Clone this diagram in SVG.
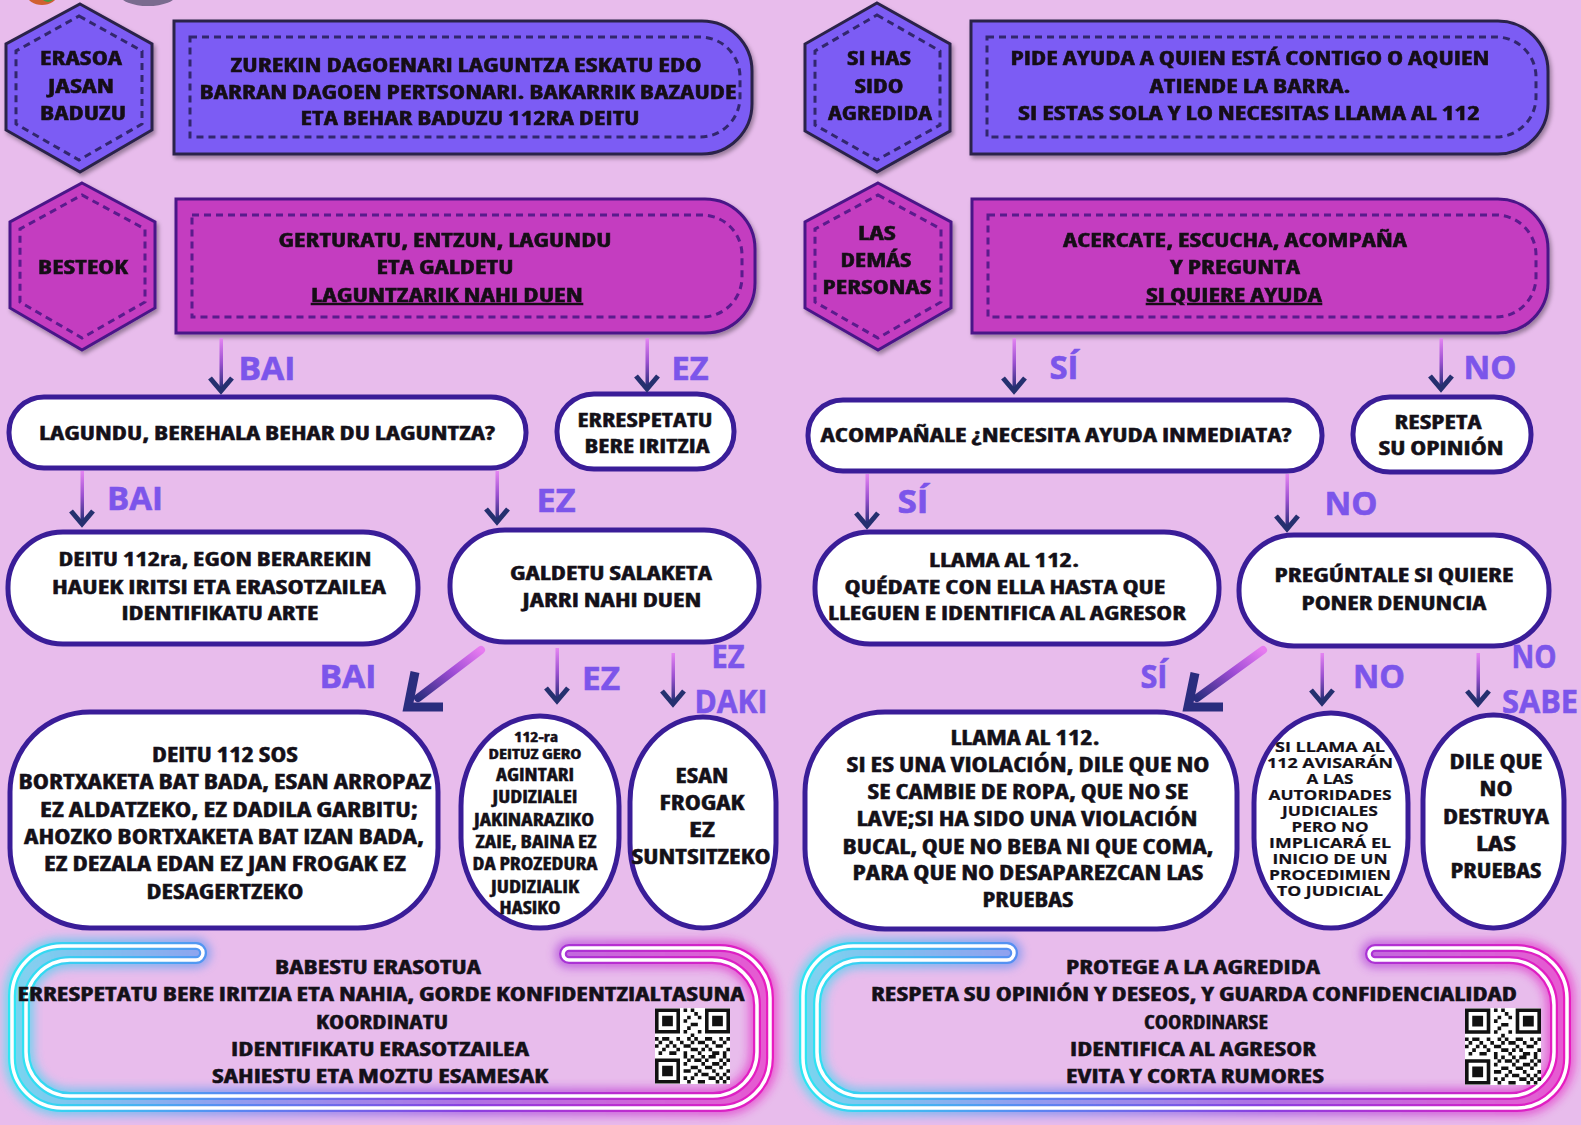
<svg xmlns="http://www.w3.org/2000/svg" xmlns:xlink="http://www.w3.org/1999/xlink" width="1581" height="1125" viewBox="0 0 1581 1125">
<defs>
<style>
.hexa{fill:#7c5cf4;stroke:#2b2348;stroke-width:3}
.hexb{fill:#c43cc0;stroke:#4a1688;stroke-width:3}
.da{fill:none;stroke:#33286e;stroke-width:3;stroke-dasharray:7 5}
.db{fill:none;stroke:#5a1a8c;stroke-width:3;stroke-dasharray:7 5}
.wn{fill:#fff;stroke:#3a1d98;stroke-width:5}
.t{font-family:"Open Sans","Liberation Sans",sans-serif;font-weight:700;font-size:20px;fill:#141018;stroke:#141018;stroke-width:0.45;text-anchor:middle;font-stretch:condensed}
.m{font-size:21px}
.s{font-size:17px}
.xs{font-size:14px;font-stretch:normal;stroke-width:0.2}
.f{font-size:19px}
.lbl{font-family:"Open Sans","Liberation Sans",sans-serif;font-weight:700;font-size:32px;fill:#7c55ea;stroke:#7c55ea;stroke-width:0.6;text-anchor:middle}
.u{text-decoration:underline}
.sh{fill:url(#sg)}
.dsh{fill:none;stroke:url(#dg);stroke-width:8;stroke-linecap:round}
.dh{fill:none;stroke:#2a2d7e;stroke-width:9;stroke-linejoin:miter}
.neon{fill:none;stroke-width:8;stroke-linejoin:round}
.core{fill:none;stroke:#fff;stroke-width:3.5}
.glow{fill:none;stroke-width:16;opacity:.6;filter:url(#blur)}
</style>
<linearGradient id="sg" x1="0" y1="0" x2="0" y2="1">
<stop offset="0" stop-color="#e584f2"/><stop offset="0.5" stop-color="#9a4fd0"/><stop offset="1" stop-color="#2a2f7a"/>
</linearGradient>
<linearGradient id="dg" x1="1" y1="0" x2="0" y2="1">
<stop offset="0" stop-color="#e77cf0"/><stop offset="0.45" stop-color="#a04cd6"/><stop offset="1" stop-color="#2a2d7e"/>
</linearGradient>
<linearGradient id="ng1" gradientUnits="userSpaceOnUse" x1="12" y1="0" x2="770" y2="0">
<stop offset="0" stop-color="#2ee6f2"/><stop offset="0.3" stop-color="#5a86f2"/><stop offset="0.6" stop-color="#8a40e0"/><stop offset="1" stop-color="#e81cc0"/>
</linearGradient>
<linearGradient id="ng2" gradientUnits="userSpaceOnUse" x1="803" y1="0" x2="1567" y2="0">
<stop offset="0" stop-color="#2ee6f2"/><stop offset="0.3" stop-color="#5a86f2"/><stop offset="0.6" stop-color="#8a40e0"/><stop offset="1" stop-color="#e81cc0"/>
</linearGradient>
<filter id="blur" x="-10%" y="-20%" width="120%" height="140%"><feGaussianBlur stdDeviation="5"/></filter>
<filter id="shd" x="-10%" y="-10%" width="125%" height="130%"><feDropShadow dx="2" dy="3" stdDeviation="2" flood-color="#000" flood-opacity="0.35"/></filter>
<path id="ah" d="M-11,-13 L0,0 L11,-13" fill="none" stroke="#25306f" stroke-width="5"/>
<symbol id="qr" viewBox="0 0 21 21">
<rect x="-1" y="-1" width="23" height="23" fill="#fff"/>
<path fill="#111" fill-rule="evenodd" d="M0,0h7v7h-7z M1,1v5h5v-5z M2,2h3v3h-3z M14,0h7v7h-7z M15,1v5h5v-5z M16,2h3v3h-3z M0,14h7v7h-7z M1,15v5h5v-5z M2,16h3v3h-3z"/>
<path fill="#111" d="M8,0h1v1h-1z M10,0h1v1h-1z M11,1h1v1h-1z M9,2h1v1h-1z M12,2h1v1h-1z M8,3h1v1h-1z M10,4h2v1h-2z M9,5h1v1h-1z M8,6h1v1h-1z M12,6h1v1h-1z M10,7h1v1h-1z M0,8h1v1h-1z M2,8h2v1h-2z M6,8h1v1h-1z M9,8h1v1h-1z M11,8h1v1h-1z M14,8h2v1h-2z M18,8h1v1h-1z M20,8h1v1h-1z M1,9h1v1h-1z M4,9h1v1h-1z M7,9h1v1h-1z M10,9h1v1h-1z M12,9h2v1h-2z M16,9h1v1h-1z M19,9h1v1h-1z M0,10h1v1h-1z M3,10h1v1h-1z M5,10h1v1h-1z M8,10h2v1h-2z M14,10h1v1h-1z M17,10h2v1h-2z M2,11h1v1h-1z M6,11h1v1h-1z M10,11h2v1h-2z M13,11h1v1h-1z M15,11h1v1h-1z M20,11h1v1h-1z M1,12h1v1h-1z M4,12h2v1h-2z M8,12h1v1h-1z M12,12h1v1h-1z M16,12h2v1h-2z M19,12h1v1h-1z M8,13h1v1h-1z M10,13h1v1h-1z M13,13h1v1h-1z M15,13h2v1h-2z M19,13h1v1h-1z M9,14h1v1h-1z M11,14h2v1h-2z M14,14h1v1h-1z M18,14h1v1h-1z M20,14h1v1h-1z M8,15h1v1h-1z M13,15h1v1h-1z M16,15h2v1h-2z M19,15h1v1h-1z M10,16h2v1h-2z M14,16h2v1h-2z M18,16h1v1h-1z M8,17h2v1h-2z M12,17h1v1h-1z M16,17h1v1h-1z M20,17h1v1h-1z M11,18h1v1h-1z M13,18h2v1h-2z M17,18h1v1h-1z M19,18h1v1h-1z M8,19h1v1h-1z M10,19h1v1h-1z M15,19h2v1h-2z M18,19h1v1h-1z M20,19h1v1h-1z M9,20h1v1h-1z M12,20h2v1h-2z M17,20h1v1h-1z M19,20h1v1h-1z"/>
</symbol>
</defs>

<rect x="0" y="0" width="1581" height="1125" fill="#e8bcec"/>

<!-- partial logo at top edge -->
<g id="logo-fragment">
<ellipse cx="42" cy="-5" rx="15" ry="10" fill="#d06030"/>
<ellipse cx="48" cy="-3" rx="6" ry="5" fill="#4a9a40"/>
<ellipse cx="148" cy="-5" rx="28" ry="11" fill="#7a6b8f"/>
</g>

<!-- ============ LEFT COLUMN ============ -->
<g id="hex-erasoa" filter="url(#shd)">
<polygon class="hexa" points="80,4 152,44 152,130 80,172 6,130 6,44"/>
<polygon class="da" points="79,16 142,51 142,124 79,160 16,124 16,51"/>
<text class="t" x="81" y="65" textLength="82" lengthAdjust="spacingAndGlyphs">ERASOA</text>
<text class="t" x="81" y="93" textLength="66" lengthAdjust="spacingAndGlyphs">JASAN</text>
<text class="t" x="83" y="120" textLength="86" lengthAdjust="spacingAndGlyphs">BADUZU</text>
</g>

<g id="box-zurekin" filter="url(#shd)">
<path d="M174,21 H702 A50,50 0 0 1 752,71 V104 A50,50 0 0 1 702,154 H174 Z" fill="#7c5cf4" stroke="#2b2348" stroke-width="3"/>
<path class="da" d="M190,37 H700 A40,40 0 0 1 740,77 V97 A40,40 0 0 1 700,137 H190 Z"/>
<text class="t" x="466" y="72" textLength="471" lengthAdjust="spacingAndGlyphs">ZUREKIN DAGOENARI LAGUNTZA ESKATU EDO</text>
<text class="t" x="468" y="99" textLength="537" lengthAdjust="spacingAndGlyphs">BARRAN DAGOEN PERTSONARI. BAKARRIK BAZAUDE</text>
<text class="t" x="470" y="125" textLength="339" lengthAdjust="spacingAndGlyphs">ETA BEHAR BADUZU 112RA DEITU</text>
</g>

<g id="hex-besteok" filter="url(#shd)">
<polygon class="hexb" points="82,183 155,222 155,308 82,350 10,308 10,222"/>
<polygon class="db" points="82,195 145,229 145,302 82,338 20,302 20,229"/>
<text class="t" x="83" y="274" textLength="90" lengthAdjust="spacingAndGlyphs">BESTEOK</text>
</g>

<g id="box-gerturatu" filter="url(#shd)">
<path d="M176,199 H705 A50,50 0 0 1 755,249 V283 A50,50 0 0 1 705,333 H176 Z" fill="#c43cc0" stroke="#4a1688" stroke-width="3"/>
<path class="db" d="M192,215 H702 A40,40 0 0 1 742,255 V277 A40,40 0 0 1 702,317 H192 Z"/>
<text class="t" x="445" y="247" textLength="333" lengthAdjust="spacingAndGlyphs">GERTURATU, ENTZUN, LAGUNDU</text>
<text class="t" x="445" y="274" textLength="137" lengthAdjust="spacingAndGlyphs">ETA GALDETU</text>
<text class="t u" x="447" y="302" textLength="272" lengthAdjust="spacingAndGlyphs">LAGUNTZARIK NAHI DUEN</text>
</g>

<g id="node-lagundu">
<rect class="wn" x="9" y="397" width="517" height="71" rx="35"/>
<text class="t" x="267" y="440" textLength="456" lengthAdjust="spacingAndGlyphs">LAGUNDU, BEREHALA BEHAR DU LAGUNTZA?</text>
</g>

<g id="node-errespetatu">
<rect class="wn" x="557" y="394" width="177" height="75" rx="37"/>
<text class="t" x="645" y="427" textLength="135" lengthAdjust="spacingAndGlyphs">ERRESPETATU</text>
<text class="t" x="647" y="453" textLength="125" lengthAdjust="spacingAndGlyphs">BERE IRITZIA</text>
</g>

<g id="node-deitu112ra">
<rect class="wn" x="8" y="532" width="410" height="112" rx="55"/>
<text class="t" x="215" y="566" textLength="313" lengthAdjust="spacingAndGlyphs">DEITU 112ra, EGON BERAREKIN</text>
<text class="t" x="219" y="594" textLength="334" lengthAdjust="spacingAndGlyphs">HAUEK IRITSI ETA ERASOTZAILEA</text>
<text class="t" x="220" y="620" textLength="197" lengthAdjust="spacingAndGlyphs">IDENTIFIKATU ARTE</text>
</g>

<g id="node-galdetu">
<rect class="wn" x="450" y="530" width="309" height="112" rx="55"/>
<text class="t" x="611" y="580" textLength="202" lengthAdjust="spacingAndGlyphs">GALDETU SALAKETA</text>
<text class="t" x="612" y="607" textLength="179" lengthAdjust="spacingAndGlyphs">JARRI NAHI DUEN</text>
</g>

<g id="node-deitu112sos">
<rect class="wn" x="10" y="712" width="428" height="216" rx="80"/>
<text class="t m" x="225" y="762" textLength="146" lengthAdjust="spacingAndGlyphs">DEITU 112 SOS</text>
<text class="t m" x="225" y="789" textLength="413" lengthAdjust="spacingAndGlyphs">BORTXAKETA BAT BADA, ESAN ARROPAZ</text>
<text class="t m" x="229" y="817" textLength="378" lengthAdjust="spacingAndGlyphs">EZ ALDATZEKO, EZ DADILA GARBITU;</text>
<text class="t m" x="224" y="844" textLength="400" lengthAdjust="spacingAndGlyphs">AHOZKO BORTXAKETA BAT IZAN BADA,</text>
<text class="t m" x="225" y="871" textLength="362" lengthAdjust="spacingAndGlyphs">EZ DEZALA EDAN EZ JAN FROGAK EZ</text>
<text class="t m" x="225" y="899" textLength="157" lengthAdjust="spacingAndGlyphs">DESAGERTZEKO</text>
</g>

<g id="node-112ra">
<rect class="wn" x="461" y="716" width="158" height="212" rx="79" ry="90"/>
<text class="t" style="font-size:14px" x="536" y="742" textLength="44" lengthAdjust="spacingAndGlyphs">112-ra</text>
<text class="t" style="font-size:15px" x="535" y="759" textLength="93" lengthAdjust="spacingAndGlyphs">DEITUZ GERO</text>
<text class="t s" x="535" y="781" textLength="78" lengthAdjust="spacingAndGlyphs">AGINTARI</text>
<text class="t s" x="535" y="803" textLength="85" lengthAdjust="spacingAndGlyphs">JUDIZIALEI</text>
<text class="t s" x="534" y="826" textLength="120" lengthAdjust="spacingAndGlyphs">JAKINARAZIKO</text>
<text class="t s" x="536" y="848" textLength="121" lengthAdjust="spacingAndGlyphs">ZAIE, BAINA EZ</text>
<text class="t s" x="535" y="870" textLength="125" lengthAdjust="spacingAndGlyphs">DA PROZEDURA</text>
<text class="t s" x="535" y="893" textLength="88" lengthAdjust="spacingAndGlyphs">JUDIZIALIK</text>
<text class="t s" x="530" y="914" textLength="61" lengthAdjust="spacingAndGlyphs">HASIKO</text>
</g>

<g id="node-esan">
<rect class="wn" x="630" y="717" width="146" height="211" rx="73" ry="85"/>
<text class="t m" x="702" y="783" textLength="53" lengthAdjust="spacingAndGlyphs">ESAN</text>
<text class="t m" x="702" y="810" textLength="85" lengthAdjust="spacingAndGlyphs">FROGAK</text>
<text class="t m" x="702" y="837" textLength="26" lengthAdjust="spacingAndGlyphs">EZ</text>
<text class="t m" x="701" y="864" textLength="139" lengthAdjust="spacingAndGlyphs">SUNTSITZEKO</text>
</g>

<g id="footer-left">
<path class="glow" stroke="url(#ng1)" d="M196,946 H62 A50,50 0 0 0 12,996 V1058 A50,50 0 0 0 62,1108 H720 A50,50 0 0 0 770,1058 V998 A50,50 0 0 0 720,948 H569 A6,6 0 0 0 569,960 H712 A45,45 0 0 1 757,1005 V1052 A44,44 0 0 1 713,1096 H70 A44,44 0 0 1 26,1052 V1004 A44,44 0 0 1 70,960 H196 A7,7 0 0 0 196,946 Z"/>
<path class="neon" stroke="url(#ng1)" d="M196,946 H62 A50,50 0 0 0 12,996 V1058 A50,50 0 0 0 62,1108 H720 A50,50 0 0 0 770,1058 V998 A50,50 0 0 0 720,948 H569 A6,6 0 0 0 569,960 H712 A45,45 0 0 1 757,1005 V1052 A44,44 0 0 1 713,1096 H70 A44,44 0 0 1 26,1052 V1004 A44,44 0 0 1 70,960 H196 A7,7 0 0 0 196,946 Z"/>
<path class="core" d="M196,946 H62 A50,50 0 0 0 12,996 V1058 A50,50 0 0 0 62,1108 H720 A50,50 0 0 0 770,1058 V998 A50,50 0 0 0 720,948 H569 A6,6 0 0 0 569,960 H712 A45,45 0 0 1 757,1005 V1052 A44,44 0 0 1 713,1096 H70 A44,44 0 0 1 26,1052 V1004 A44,44 0 0 1 70,960 H196 A7,7 0 0 0 196,946 Z"/>
<text class="t f" x="378" y="974" textLength="206" lengthAdjust="spacingAndGlyphs">BABESTU ERASOTUA</text>
<text class="t f" x="381" y="1001" textLength="727" lengthAdjust="spacingAndGlyphs">ERRESPETATU BERE IRITZIA ETA NAHIA, GORDE KONFIDENTZIALTASUNA</text>
<text class="t f" x="382" y="1029" textLength="132" lengthAdjust="spacingAndGlyphs">KOORDINATU</text>
<text class="t f" x="380" y="1056" textLength="298" lengthAdjust="spacingAndGlyphs">IDENTIFIKATU ERASOTZAILEA</text>
<text class="t f" x="380" y="1083" textLength="336" lengthAdjust="spacingAndGlyphs">SAHIESTU ETA MOZTU ESAMESAK</text>
<use href="#qr" x="655" y="1008" width="75" height="76"/>
</g>

<!-- ============ RIGHT COLUMN ============ -->
<g id="hex-sihas" filter="url(#shd)">
<polygon class="hexa" points="877,3 950,44 950,131 877,172 805,131 805,44"/>
<polygon class="da" points="877,15 940,51 940,125 877,160 815,125 815,51"/>
<text class="t" x="879" y="65" textLength="64" lengthAdjust="spacingAndGlyphs">SI HAS</text>
<text class="t" x="879" y="93" textLength="49" lengthAdjust="spacingAndGlyphs">SIDO</text>
<text class="t" x="880" y="120" textLength="104" lengthAdjust="spacingAndGlyphs">AGREDIDA</text>
</g>

<g id="box-pide" filter="url(#shd)">
<path d="M971,21 H1498 A50,50 0 0 1 1548,71 V104 A50,50 0 0 1 1498,154 H971 Z" fill="#7c5cf4" stroke="#2b2348" stroke-width="3"/>
<path class="da" d="M987,37 H1496 A40,40 0 0 1 1536,77 V97 A40,40 0 0 1 1496,137 H987 Z"/>
<text class="t" x="1250" y="65" textLength="479" lengthAdjust="spacingAndGlyphs">PIDE AYUDA A QUIEN ESTÁ CONTIGO O AQUIEN</text>
<text class="t" x="1250" y="93" textLength="201" lengthAdjust="spacingAndGlyphs">ATIENDE LA BARRA.</text>
<text class="t" x="1249" y="120" textLength="462" lengthAdjust="spacingAndGlyphs">SI ESTAS SOLA Y LO NECESITAS LLAMA AL 112</text>
</g>

<g id="hex-lasdemas" filter="url(#shd)">
<polygon class="hexb" points="878,183 951,222 951,308 878,350 805,308 805,222"/>
<polygon class="db" points="878,195 941,229 941,302 878,338 815,302 815,229"/>
<text class="t" x="877" y="240" textLength="38" lengthAdjust="spacingAndGlyphs">LAS</text>
<text class="t" x="876" y="267" textLength="71" lengthAdjust="spacingAndGlyphs">DEMÁS</text>
<text class="t" x="877" y="294" textLength="109" lengthAdjust="spacingAndGlyphs">PERSONAS</text>
</g>

<g id="box-acercate" filter="url(#shd)">
<path d="M972,199 H1498 A50,50 0 0 1 1548,249 V283 A50,50 0 0 1 1498,333 H972 Z" fill="#c43cc0" stroke="#4a1688" stroke-width="3"/>
<path class="db" d="M988,215 H1496 A40,40 0 0 1 1536,255 V277 A40,40 0 0 1 1496,317 H988 Z"/>
<text class="t" x="1235" y="247" textLength="344" lengthAdjust="spacingAndGlyphs">ACERCATE, ESCUCHA, ACOMPAÑA</text>
<text class="t" x="1235" y="274" textLength="130" lengthAdjust="spacingAndGlyphs">Y PREGUNTA</text>
<text class="t u" x="1234" y="302" textLength="176" lengthAdjust="spacingAndGlyphs">SI QUIERE AYUDA</text>
</g>

<g id="node-acompanale">
<rect class="wn" x="808" y="400" width="514" height="71" rx="35"/>
<text class="t" x="1056" y="442" textLength="471" lengthAdjust="spacingAndGlyphs">ACOMPAÑALE ¿NECESITA AYUDA INMEDIATA?</text>
</g>

<g id="node-respeta">
<rect class="wn" x="1353" y="397" width="178" height="75" rx="37"/>
<text class="t" x="1438" y="429" textLength="87" lengthAdjust="spacingAndGlyphs">RESPETA</text>
<text class="t" x="1441" y="455" textLength="125" lengthAdjust="spacingAndGlyphs">SU OPINIÓN</text>
</g>

<g id="node-llama112">
<rect class="wn" x="815" y="532" width="404" height="112" rx="55"/>
<text class="t" x="1004" y="567" textLength="150" lengthAdjust="spacingAndGlyphs">LLAMA AL 112.</text>
<text class="t" x="1005" y="594" textLength="321" lengthAdjust="spacingAndGlyphs">QUÉDATE CON ELLA HASTA QUE</text>
<text class="t" x="1007" y="620" textLength="358" lengthAdjust="spacingAndGlyphs">LLEGUEN E IDENTIFICA AL AGRESOR</text>
</g>

<g id="node-preguntale">
<rect class="wn" x="1239" y="535" width="310" height="111" rx="55"/>
<text class="t" x="1394" y="582" textLength="239" lengthAdjust="spacingAndGlyphs">PREGÚNTALE SI QUIERE</text>
<text class="t" x="1394" y="610" textLength="185" lengthAdjust="spacingAndGlyphs">PONER DENUNCIA</text>
</g>

<g id="node-llama-violacion">
<rect class="wn" x="805" y="712" width="432" height="217" rx="80"/>
<text class="t m" x="1025" y="745" textLength="149" lengthAdjust="spacingAndGlyphs">LLAMA AL 112.</text>
<text class="t m" x="1028" y="772" textLength="363" lengthAdjust="spacingAndGlyphs">SI ES UNA VIOLACIÓN, DILE QUE NO</text>
<text class="t m" x="1028" y="799" textLength="321" lengthAdjust="spacingAndGlyphs">SE CAMBIE DE ROPA, QUE NO SE</text>
<text class="t m" x="1027" y="826" textLength="341" lengthAdjust="spacingAndGlyphs">LAVE;SI HA SIDO UNA VIOLACIÓN</text>
<text class="t m" x="1028" y="854" textLength="371" lengthAdjust="spacingAndGlyphs">BUCAL, QUE NO BEBA NI QUE COMA,</text>
<text class="t m" x="1028" y="880" textLength="351" lengthAdjust="spacingAndGlyphs">PARA QUE NO DESAPAREZCAN LAS</text>
<text class="t m" x="1028" y="907" textLength="91" lengthAdjust="spacingAndGlyphs">PRUEBAS</text>
</g>

<g id="node-sillama">
<rect class="wn" x="1254" y="713" width="154" height="215" rx="77" ry="90"/>
<text class="t xs" x="1330" y="752" textLength="110" lengthAdjust="spacingAndGlyphs">SI LLAMA AL</text>
<text class="t xs" x="1330" y="768" textLength="126" lengthAdjust="spacingAndGlyphs">112 AVISARÁN</text>
<text class="t xs" x="1330" y="784" textLength="47" lengthAdjust="spacingAndGlyphs">A LAS</text>
<text class="t xs" x="1330" y="800" textLength="123" lengthAdjust="spacingAndGlyphs">AUTORIDADES</text>
<text class="t xs" x="1330" y="816" textLength="96" lengthAdjust="spacingAndGlyphs">JUDICIALES</text>
<text class="t xs" x="1330" y="832" textLength="77" lengthAdjust="spacingAndGlyphs">PERO NO</text>
<text class="t xs" x="1330" y="848" textLength="122" lengthAdjust="spacingAndGlyphs">IMPLICARÁ EL</text>
<text class="t xs" x="1330" y="864" textLength="115" lengthAdjust="spacingAndGlyphs">INICIO DE UN</text>
<text class="t xs" x="1330" y="880" textLength="122" lengthAdjust="spacingAndGlyphs">PROCEDIMIEN</text>
<text class="t xs" x="1330" y="896" textLength="106" lengthAdjust="spacingAndGlyphs">TO JUDICIAL</text>
</g>

<g id="node-dile">
<rect class="wn" x="1423" y="715" width="141" height="213" rx="70" ry="85"/>
<text class="t m" x="1496" y="769" textLength="93" lengthAdjust="spacingAndGlyphs">DILE QUE</text>
<text class="t m" x="1496" y="796" textLength="33" lengthAdjust="spacingAndGlyphs">NO</text>
<text class="t m" x="1496" y="824" textLength="106" lengthAdjust="spacingAndGlyphs">DESTRUYA</text>
<text class="t m" x="1496" y="851" textLength="40" lengthAdjust="spacingAndGlyphs">LAS</text>
<text class="t m" x="1496" y="878" textLength="91" lengthAdjust="spacingAndGlyphs">PRUEBAS</text>
</g>

<g id="footer-right">
<path class="glow" stroke="url(#ng2)" d="M1007,946 H853 A50,50 0 0 0 803,996 V1058 A50,50 0 0 0 853,1108 H1517 A50,50 0 0 0 1567,1058 V998 A50,50 0 0 0 1517,948 H1375 A6,6 0 0 0 1375,960 H1509 A45,45 0 0 1 1554,1005 V1052 A44,44 0 0 1 1510,1096 H861 A44,44 0 0 1 817,1052 V1004 A44,44 0 0 1 861,960 H1007 A7,7 0 0 0 1007,946 Z"/>
<path class="neon" stroke="url(#ng2)" d="M1007,946 H853 A50,50 0 0 0 803,996 V1058 A50,50 0 0 0 853,1108 H1517 A50,50 0 0 0 1567,1058 V998 A50,50 0 0 0 1517,948 H1375 A6,6 0 0 0 1375,960 H1509 A45,45 0 0 1 1554,1005 V1052 A44,44 0 0 1 1510,1096 H861 A44,44 0 0 1 817,1052 V1004 A44,44 0 0 1 861,960 H1007 A7,7 0 0 0 1007,946 Z"/>
<path class="core" d="M1007,946 H853 A50,50 0 0 0 803,996 V1058 A50,50 0 0 0 853,1108 H1517 A50,50 0 0 0 1567,1058 V998 A50,50 0 0 0 1517,948 H1375 A6,6 0 0 0 1375,960 H1509 A45,45 0 0 1 1554,1005 V1052 A44,44 0 0 1 1510,1096 H861 A44,44 0 0 1 817,1052 V1004 A44,44 0 0 1 861,960 H1007 A7,7 0 0 0 1007,946 Z"/>
<text class="t f" x="1193" y="974" textLength="254" lengthAdjust="spacingAndGlyphs">PROTEGE A LA AGREDIDA</text>
<text class="t f" x="1194" y="1001" textLength="646" lengthAdjust="spacingAndGlyphs">RESPETA SU OPINIÓN Y DESEOS, Y GUARDA CONFIDENCIALIDAD</text>
<text class="t" x="1206" y="1029" textLength="124" lengthAdjust="spacingAndGlyphs">COORDINARSE</text>
<text class="t f" x="1193" y="1056" textLength="246" lengthAdjust="spacingAndGlyphs">IDENTIFICA AL AGRESOR</text>
<text class="t f" x="1195" y="1083" textLength="258" lengthAdjust="spacingAndGlyphs">EVITA Y CORTA RUMORES</text>
<use href="#qr" x="1465" y="1008" width="76" height="77"/>
</g>

<!-- ============ CONNECTORS ============ -->
<g id="connectors">
<!-- row 1 -->
<rect class="sh" x="219.5" y="338" width="3.5" height="50"/><use href="#ah" x="221" y="391"/>
<text class="lbl" x="267" y="380" textLength="57" lengthAdjust="spacingAndGlyphs">BAI</text>
<rect class="sh" x="645.5" y="338" width="3.5" height="48"/><use href="#ah" x="647" y="389"/>
<text class="lbl" x="690" y="380" textLength="37" lengthAdjust="spacingAndGlyphs">EZ</text>
<rect class="sh" x="1012.5" y="338" width="3.5" height="50"/><use href="#ah" x="1014" y="391"/>
<text class="lbl" x="1064" y="379" textLength="29" lengthAdjust="spacingAndGlyphs">SÍ</text>
<rect class="sh" x="1439.5" y="338" width="3.5" height="48"/><use href="#ah" x="1441" y="389"/>
<text class="lbl" x="1490" y="379" textLength="53" lengthAdjust="spacingAndGlyphs">NO</text>
<!-- row 2 -->
<rect class="sh" x="80.5" y="471" width="3.5" height="50"/><use href="#ah" x="82" y="524"/>
<text class="lbl" x="135" y="510" textLength="56" lengthAdjust="spacingAndGlyphs">BAI</text>
<rect class="sh" x="495.5" y="471" width="3.5" height="48"/><use href="#ah" x="497" y="522"/>
<text class="lbl" x="556" y="512" textLength="39" lengthAdjust="spacingAndGlyphs">EZ</text>
<rect class="sh" x="865.5" y="474" width="3.5" height="49"/><use href="#ah" x="867" y="526"/>
<text class="lbl" x="913" y="513" textLength="31" lengthAdjust="spacingAndGlyphs">SÍ</text>
<rect class="sh" x="1285.5" y="474" width="3.5" height="52"/><use href="#ah" x="1287" y="529"/>
<text class="lbl" x="1351" y="515" textLength="53" lengthAdjust="spacingAndGlyphs">NO</text>
<!-- row 3 left -->
<path class="dsh" d="M481,650 L418,698"/>
<path class="dh" d="M443,707 H408 L415,672"/>
<text class="lbl" x="348" y="688" textLength="57" lengthAdjust="spacingAndGlyphs">BAI</text>
<rect class="sh" x="555.5" y="648" width="3.5" height="50"/><use href="#ah" x="557" y="701"/>
<text class="lbl" x="601" y="690" textLength="38" lengthAdjust="spacingAndGlyphs">EZ</text>
<rect class="sh" x="671.5" y="653" width="3.5" height="48"/><use href="#ah" x="673" y="704"/>
<text class="lbl" x="728" y="668" textLength="33" lengthAdjust="spacingAndGlyphs">EZ</text>
<text class="lbl" x="731" y="713" textLength="73" lengthAdjust="spacingAndGlyphs">DAKI</text>
<!-- row 3 right -->
<path class="dsh" d="M1263,650 L1197,698"/>
<path class="dh" d="M1223,707 H1188 L1195,673"/>
<text class="lbl" x="1154" y="688" textLength="27" lengthAdjust="spacingAndGlyphs">SÍ</text>
<rect class="sh" x="1320.5" y="653" width="3.5" height="47"/><use href="#ah" x="1322" y="703"/>
<text class="lbl" x="1379" y="688" textLength="52" lengthAdjust="spacingAndGlyphs">NO</text>
<rect class="sh" x="1476.5" y="653" width="3.5" height="48"/><use href="#ah" x="1478" y="704"/>
<text class="lbl" x="1534" y="668" textLength="45" lengthAdjust="spacingAndGlyphs">NO</text>
<text class="lbl" x="1540" y="713" textLength="76" lengthAdjust="spacingAndGlyphs">SABE</text>
</g>
</svg>
